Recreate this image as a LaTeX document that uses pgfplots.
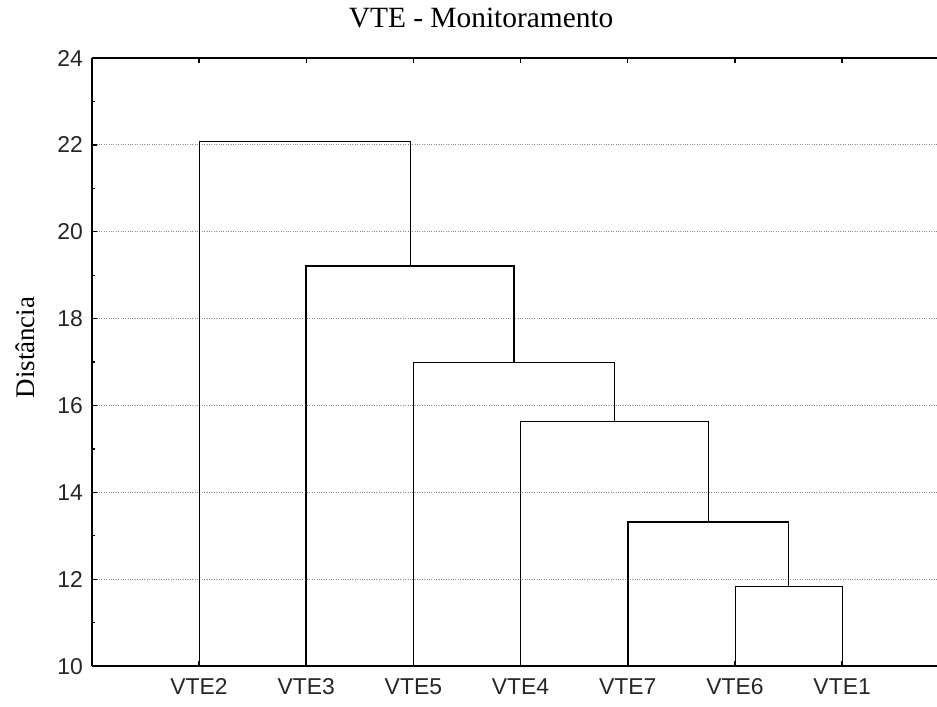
\documentclass[border=0pt]{standalone}
\usepackage{fontspec}
\setmainfont{Liberation Serif}
\newfontfamily\arialfont{Liberation Sans}
\usepackage{pgfplots}
\pgfplotsset{compat=1.18}

\begin{document}
\begin{tikzpicture}
\begin{axis}[
  name=ax,
  scale only axis,
  width=845bp, height=608bp,
  xmin=0, xmax=7.885,
  ymin=10, ymax=24,
  axis x line*=box,
  axis y line*=left,
  axis line style={line width=1.8bp, black},
  xtick={1,2,3,4,5,6,7},
  xticklabels={VTE2,VTE3,VTE5,VTE4,VTE7,VTE6,VTE1},
  ytick={10,12,14,16,18,20,22,24},
  minor y tick num=1,
  tick align=inside,
  major tick length=5bp,
  minor tick length=3bp,
  tick style={line width=1.3bp, black},
  /pgf/number format/assume math mode=true,
  tick label style={font=\arialfont\fontsize{23}{26}\selectfont, text=black!85},
  xticklabel style={text height=16.5bp, text depth=0bp, yshift=-8bp},
  yticklabel style={xshift=-5.5bp},
  ymajorgrids,
  major grid style={black!45, dotted, line width=0.9bp},
  title={VTE - Monitoramento},
  title style={font=\fontsize{29.5}{34}\selectfont, at={(axis description cs:0.4606,1.0411)}, anchor=base},
  ylabel={Distância},
  ylabel style={font=\fontsize{27}{32}\selectfont, at={(axis description cs:-0.0675,0.524)}, anchor=base},
  cycle list={{black, line width=1.9bp, mark=none}},
]
% linkage: VTE6 + VTE1
\addplot coordinates {(6,10) (6,11.85) (7,11.85) (7,10)};
% VTE7 + (VTE6, VTE1)
\addplot coordinates {(5,10) (5,13.32) (6.5,13.32) (6.5,11.85)};
% VTE4 + previous cluster
\addplot coordinates {(4,10) (4,15.64) (5.75,15.64) (5.75,13.32)};
% VTE5 + previous cluster
\addplot coordinates {(3,10) (3,17.0) (4.875,17.0) (4.875,15.64)};
% VTE3 + previous cluster
\addplot coordinates {(2,10) (2,19.21) (3.9375,19.21) (3.9375,17.0)};
% VTE2 + all others
\addplot coordinates {(1,10) (1,22.09) (2.96875,22.09) (2.96875,19.21)};
\end{axis}
\pgfresetboundingbox
\path[use as bounding box] ([xshift=-91.8bp,yshift=-40bp]ax.south west) rectangle ([yshift=58bp]ax.north east);
\end{tikzpicture}
\end{document}
